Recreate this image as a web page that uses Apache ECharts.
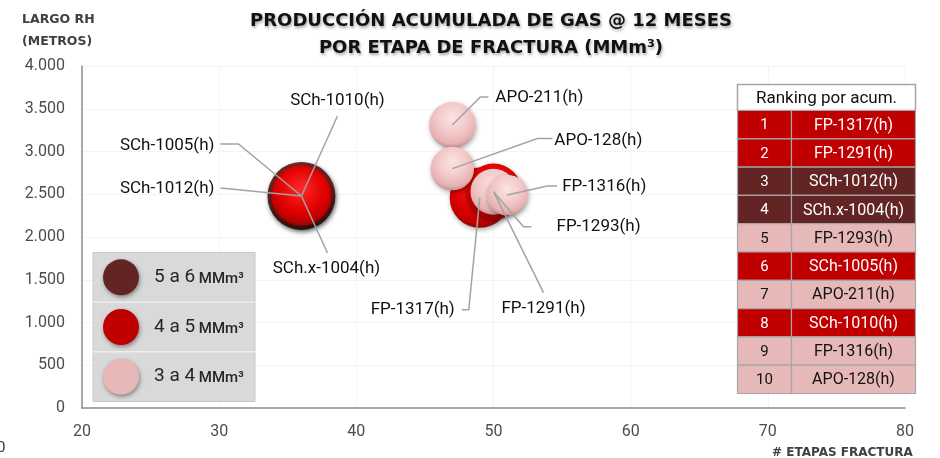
<!DOCTYPE html>
<html><head><meta charset="utf-8">
<script src="https://cdn.jsdelivr.net/npm/echarts@6/dist/echarts.min.js"></script>
<style>html,body{margin:0;padding:0;background:#fff}#c{width:940px;height:458px}</style>
</head><body><div id="c"></div>
<script>
// ---- data ----
const wells = ['SCh-1012(h)','SCh.x-1004(h)','SCh-1005(h)','SCh-1010(h)','FP-1317(h)','FP-1291(h)','APO-211(h)','APO-128(h)','FP-1293(h)','FP-1316(h)'];
const etapas = [36, 36, 36, 36, 49, 50, 47, 47, 50, 51];
const largoRH = [2480, 2480, 2480, 2480, 2460, 2530, 3310, 2800, 2530, 2490];
const prodPorEtapa = [5.3, 5.2, 4.75, 4.6, 4.7, 4.4, 3.6, 3.4, 3.6, 3.2];
const rankingNames = ['FP-1317(h)','FP-1291(h)','SCh-1012(h)','SCh.x-1004(h)','FP-1293(h)','SCh-1005(h)','APO-211(h)','SCh-1010(h)','FP-1316(h)','APO-128(h)'];
const legendRanges = [[5, 6], [4, 5], [3, 4]];
const xMin = 20, xMax = 80, xStep = 10;
const yMin = 0, yMax = 4000, yStep = 500;
const titleLines = ['PRODUCCIÓN ACUMULADA DE GAS @ 12 MESES', 'POR ETAPA DE FRACTURA (MMm³)'];

// ---- styles ----
const classColors = ['#632523', '#C00000', '#E6B9B8'];
const bubbleFills = [
  {type:'radial', x:0.5, y:0.4, r:0.62, colorStops:[{offset:0,color:'#8E3C38'},{offset:0.75,color:'#632523'},{offset:1,color:'#3A1210'}]},
  {type:'radial', x:0.5, y:0.38, r:0.64, colorStops:[{offset:0,color:'#FF2A2A'},{offset:0.6,color:'#E20000'},{offset:0.85,color:'#C00000'},{offset:1,color:'#7E0A0A'}]},
  {type:'radial', x:0.5, y:0.35, r:0.66, colorStops:[{offset:0,color:'#FBE4E4'},{offset:0.55,color:'#F2C6C6'},{offset:0.85,color:'#E4AFAF'},{offset:1,color:'#C48A8A'}]}
];
function classOf(v){ for (let i=0;i<legendRanges.length;i++){ if (v>=legendRanges[i][0]) return i; } return legendRanges.length-1; }
const sizeK = 12.8;
const labelFont = '17px Roboto, sans-serif';
const TOP = 100;

// leader-line layout: offsets in px from bubble centre
const leaders = {
  'SCh-1010(h)':  {pts:[[36,-80]], txt:[36,-95], align:'center'},
  'SCh-1005(h)':  {pts:[[-63,-52],[-81,-52]], txt:[-87,-50], align:'right'},
  'SCh-1012(h)':  {pts:[[-81,-8]], txt:[-87,-7], align:'right'},
  'SCh.x-1004(h)':{pts:[[26,57]], txt:[25,73], align:'center'},
  'APO-211(h)':   {pts:[[28,-28],[36,-28]], txt:[43,-27], align:'left'},
  'APO-128(h)':   {pts:[[85,-30],[100,-30]], txt:[102,-28], align:'left'},
  'FP-1316(h)':   {pts:[[40,-9],[50,-9]], txt:[55,-8], align:'left'},
  'FP-1293(h)':   {pts:[[30,35],[38,35]], txt:[63,35], align:'left'},
  'FP-1291(h)':   {pts:[[50,101]], txt:[50,117], align:'center'},
  'FP-1317(h)':   {pts:[[-11,112],[-18,112]], txt:[-25,112], align:'right'}
};

// ---- series ----
const bubbleSeries = legendRanges.map((r, ci) => ({
  type:'scatter',
  z: 2 + ci,
  data: wells.map((w,i)=>({name:w, value:[etapas[i], largoRH[i], prodPorEtapa[i]]})).filter((d)=>classOf(d.value[2])===ci),
  symbolSize: (v)=> v[2]*sizeK,
  itemStyle:{color:bubbleFills[ci], opacity:1, shadowBlur:5, shadowColor:'rgba(0,0,0,0.35)', shadowOffsetX:1, shadowOffsetY:2},
  emphasis:{disabled:true},
  animation:false
}));

const leaderSeries = {
  type:'custom',
  z: 10,
  animation:false,
  data: wells.map((w,i)=>[etapas[i], largoRH[i], i]),
  renderItem: function(params, api){
    const c = api.coord([api.value(0), api.value(1)]);
    const L = leaders[wells[api.value(2)]];
    const pts = [c].concat(L.pts.map(p=>[c[0]+p[0], c[1]+p[1]]));
    return {type:'group', children:[
      {type:'polyline', shape:{points:pts}, style:{stroke:'#A3A3A3', lineWidth:1.5, fill:null}},
      {type:'text', x:c[0]+L.txt[0], y:c[1]+L.txt[1], style:{text:wells[api.value(2)], align:L.align, verticalAlign:'middle', fill:'#111', font:labelFont}}
    ]};
  }
};

// ---- table (ranking) ----
const tbl = {x:737.5, y:84.5, w1:54, w2:124, hh:26, rh:28.3};
const tableEls = [];
tableEls.push({type:'rect', z:TOP, shape:{x:tbl.x, y:tbl.y, width:tbl.w1+tbl.w2, height:tbl.hh}, style:{fill:'#fff', stroke:'#A6A6A6', lineWidth:1.5}});
tableEls.push({type:'text', z:TOP+1, x:tbl.x+(tbl.w1+tbl.w2)/2, y:tbl.y+tbl.hh/2+1, style:{text:'Ranking por acum.', align:'center', verticalAlign:'middle', fill:'#111', font:'17px Roboto, sans-serif'}});
rankingNames.forEach((n,k)=>{
  const ci = classOf(prodPorEtapa[wells.indexOf(n)]);
  const y = tbl.y + tbl.hh + k*tbl.rh;
  const txtColor = ci===2 ? '#111' : '#fff';
  tableEls.push({type:'rect', z:TOP, shape:{x:tbl.x, y:y, width:tbl.w1, height:tbl.rh}, style:{fill:classColors[ci], stroke:'#A6A6A6', lineWidth:1.2}});
  tableEls.push({type:'rect', z:TOP, shape:{x:tbl.x+tbl.w1, y:y, width:tbl.w2, height:tbl.rh}, style:{fill:classColors[ci], stroke:'#A6A6A6', lineWidth:1.2}});
  tableEls.push({type:'text', z:TOP+1, x:tbl.x+tbl.w1/2, y:y+tbl.rh/2+1, style:{text:String(k+1), align:'center', verticalAlign:'middle', fill:txtColor, font:'15px Roboto, sans-serif'}});
  tableEls.push({type:'text', z:TOP+1, x:tbl.x+tbl.w1+tbl.w2/2, y:y+tbl.rh/2+1, style:{text:n, align:'center', verticalAlign:'middle', fill:txtColor, font:'16px Roboto, sans-serif'}});
});

// ---- legend box ----
const lg = {x:93, y:252.5, w:162, h:149};
const legendEls = [{type:'rect', z:TOP, shape:{x:lg.x, y:lg.y, width:lg.w, height:lg.h}, style:{fill:'#D9D9D9', stroke:'#C8C8C8', lineWidth:1}}];
legendRanges.forEach((r,i)=>{
  const rowH = lg.h/legendRanges.length;
  const cy = lg.y + rowH*i + rowH/2;
  if (i>0) legendEls.push({type:'line', z:TOP+1, shape:{x1:lg.x, y1:lg.y+rowH*i, x2:lg.x+lg.w, y2:lg.y+rowH*i}, style:{stroke:'#EDEDED', lineWidth:1.5}});
  legendEls.push({type:'circle', z:TOP+1, shape:{cx:lg.x+28, cy:cy, r:18}, style:{fill:classColors[i], shadowBlur:4, shadowColor:'rgba(0,0,0,0.4)', shadowOffsetX:1, shadowOffsetY:2}});
  legendEls.push({type:'text', z:TOP+1, x:lg.x+61, y:cy, style:{
    text:'{a|'+r[0]+' a '+r[1]+'}{b| MMm³}', verticalAlign:'middle',
    rich:{a:{font:'19px Roboto, sans-serif', fill:'#262626'}, b:{font:'500 15px Roboto, sans-serif', fill:'#262626', padding:[4,0,0,0]}}
  }});
});

const chart = echarts.init(document.getElementById('c'), null, {renderer:'canvas'});
chart.setOption({
  backgroundColor:'#fff',
  animation:false,
  textStyle:{fontFamily:'Roboto, "Noto Sans", sans-serif'},
  title:{
    text: titleLines.join('\n'), left:486, top:3, textAlign:'center',
    textStyle:{fontSize:18, fontWeight:'bold', color:'#111', lineHeight:27, fontFamily:'"DejaVu Sans", sans-serif',
      textShadowColor:'rgba(0,0,0,0.35)', textShadowBlur:3, textShadowOffsetX:1, textShadowOffsetY:2}
  },
  grid:{left:82, right:35, top:66, bottom:50, containLabel:false},
  xAxis:{type:'value', min:xMin, max:xMax, interval:xStep,
    axisLine:{show:true, lineStyle:{color:'#8C8C8C', width:1.5}}, axisTick:{show:false},
    axisLabel:{color:'#4D4D4D', fontSize:16, margin:16},
    splitLine:{show:true, lineStyle:{color:'#F4F4F4'}}},
  yAxis:{type:'value', min:yMin, max:yMax, interval:yStep,
    axisLine:{show:true, lineStyle:{color:'#8C8C8C', width:1.5}}, axisTick:{show:false},
    axisLabel:{color:'#4D4D4D', fontSize:16, margin:17, formatter:(v)=>v.toLocaleString('de-DE')},
    splitLine:{show:true, lineStyle:{color:'#F4F4F4'}}},
  graphic:{elements:[
    {type:'text', z:TOP, left:22, top:9, style:{text:'LARGO RH\n(METROS)', fill:'#404040', font:'bold 12.5px "DejaVu Sans", sans-serif', lineHeight:22}},
    {type:'text', z:TOP, left:772, top:447, style:{text:'# ETAPAS FRACTURA', fill:'#404040', font:'bold 12px "DejaVu Sans", sans-serif'}},
    {type:'text', z:TOP, left:-3, top:441, style:{text:'0', fill:'#333', font:'15px Roboto, sans-serif'}},
    {type:'group', z:TOP, children: legendEls},
    {type:'group', z:TOP, children: tableEls}
  ]},
  series: bubbleSeries.concat([leaderSeries])
});
</script></body></html>
